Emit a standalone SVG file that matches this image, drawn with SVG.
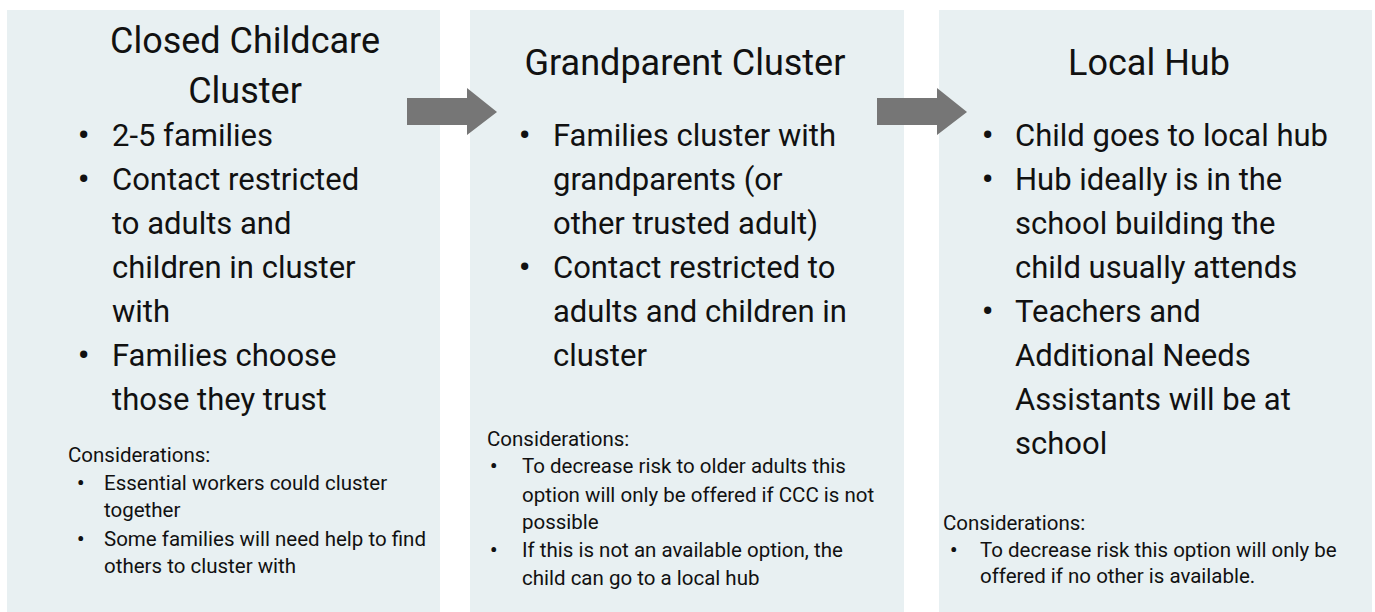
<svg xmlns="http://www.w3.org/2000/svg" width="1375" height="612" viewBox="0 0 1375 612">
<style>
.box{fill:#e8f0f2}
.arrow{fill:#767676}
text{font-family:Roboto,"Liberation Sans",sans-serif;fill:#111;font-weight:400}
.title{font-size:36px;text-anchor:middle}
.body{font-size:31px}
.small{font-size:20.5px}
.b{font-weight:700}
</style>
<rect width="1375" height="612" fill="#ffffff"/>
<g id="node-ccc">
<rect class="box" x="7" y="10" width="433" height="602"/>
<text class="title" x="245" y="53">Closed Childcare</text>
<text class="title" x="245" y="103">Cluster</text>
<text class="body b" x="78" y="146">•</text><text class="body" x="112" y="146">2-5 families</text>
<text class="body b" x="78" y="190">•</text><text class="body" x="112" y="190">Contact restricted</text>
<text class="body" x="112" y="234">to adults and</text>
<text class="body" x="112" y="278">children in cluster</text>
<text class="body" x="112" y="322">with</text>
<text class="body b" x="78" y="366">•</text><text class="body" x="112" y="366">Families choose</text>
<text class="body" x="112" y="410">those they trust</text>
<text class="small" x="68" y="462">Considerations:</text>
<text class="small b" x="77" y="490">•</text><text class="small" x="104" y="490">Essential workers could cluster</text>
<text class="small" x="104" y="517">together</text>
<text class="small b" x="77" y="546">•</text><text class="small" x="104" y="546">Some families will need help to find</text>
<text class="small" x="104" y="573">others to cluster with</text>
</g>
<g id="node-grandparent">
<rect class="box" x="470" y="10" width="434" height="602"/>
<text class="title" x="685" y="75">Grandparent Cluster</text>
<text class="body b" x="519" y="146">•</text><text class="body" x="553" y="146">Families cluster with</text>
<text class="body" x="553" y="190">grandparents (or</text>
<text class="body" x="553" y="234">other trusted adult)</text>
<text class="body b" x="519" y="278">•</text><text class="body" x="553" y="278">Contact restricted to</text>
<text class="body" x="553" y="322">adults and children in</text>
<text class="body" x="553" y="366">cluster</text>
<text class="small" x="487" y="446">Considerations:</text>
<text class="small b" x="490" y="473">•</text><text class="small" x="522" y="473">To decrease risk to older adults this</text>
<text class="small" x="522" y="502">option will only be offered if CCC is not</text>
<text class="small" x="522" y="529">possible</text>
<text class="small b" x="490" y="557">•</text><text class="small" x="522" y="557">If this is not an available option, the</text>
<text class="small" x="522" y="585">child can go to a local hub</text>
</g>
<g id="node-hub">
<rect class="box" x="939" y="10" width="433" height="602"/>
<text class="title" x="1149" y="75">Local Hub</text>
<text class="body b" x="982" y="146">•</text><text class="body" x="1015" y="146">Child goes to local hub</text>
<text class="body b" x="982" y="190">•</text><text class="body" x="1015" y="190">Hub ideally is in the</text>
<text class="body" x="1015" y="234">school building the</text>
<text class="body" x="1015" y="278">child usually attends</text>
<text class="body b" x="982" y="322">•</text><text class="body" x="1015" y="322">Teachers and</text>
<text class="body" x="1015" y="366">Additional Needs</text>
<text class="body" x="1015" y="410">Assistants will be at</text>
<text class="body" x="1015" y="454">school</text>
<text class="small" x="943" y="530">Considerations:</text>
<text class="small b" x="950" y="557">•</text><text class="small" x="980" y="557">To decrease risk this option will only be</text>
<text class="small" x="980" y="583">offered if no other is available.</text>
</g>
<g id="connectors">
<polygon class="arrow" points="407,98 467,98 467,88 497,112 467,135 467,125 407,125"/>
<polygon class="arrow" points="877,98 937,98 937,88 967,112 937,135 937,125 877,125"/>
</g>
</svg>
